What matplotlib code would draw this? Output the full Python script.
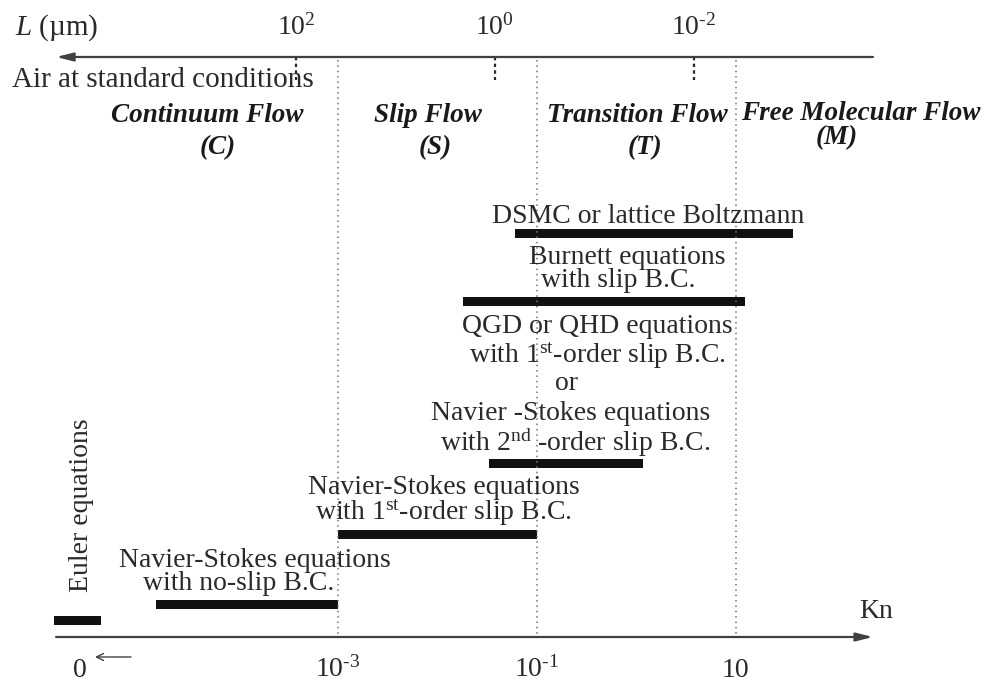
import numpy as np
import matplotlib
matplotlib.use('Agg')
import matplotlib.pyplot as plt
from matplotlib import transforms

plt.rcParams['font.family'] = ['Liberation Serif', 'DejaVu Serif']
plt.rcParams['mathtext.fontset'] = 'custom'
plt.rcParams['mathtext.rm'] = 'Liberation Serif'
plt.rcParams['mathtext.it'] = 'Liberation Serif:italic'
plt.rcParams['mathtext.bf'] = 'Liberation Serif:bold'

# ---- data ----
# Knudsen number range covered by each method
methods = ['DSMC', 'Burnett', 'QGD/NS2', 'NS1', 'NS0', 'Euler']
kn_lo = [0.06, 0.018, 0.033, 1e-3, 1.5e-5, 1.4e-6]
kn_hi = [38.0, 12.4, 1.17, 0.1, 1e-3, 4.2e-6]

# regime boundaries and bottom axis ticks
kn_bounds = [1e-3, 1e-1, 10]
kn_ticks = [1e-3, 1e-1, 10]
kn_ticklabels = ['$10^{\u2010 3}$', '$10^{\u2010 1}$', '10']

# top axis: length scale L (um) for air, L = lam / Kn
lam = 10 ** -1.42
L_ticks = [1e2, 1e0, 1e-2]
L_ticklabels = ['$10^{2}$', '$10^{0}$', '$10^{\u2010 2}$']

regimes = ['Continuum Flow', 'Slip Flow', 'Transition Flow', 'Free Molecular Flow']
regime_tags = ['(C)', '(S)', '(T)', '(M)']

# ---- layout (pixels) ----
W, H = 985, 682
bar_rows = [233, 301, 463, 534, 604, 620]
bar_h = 9
y_top, y_bot = 57, 637
kn_axis_left, kn_axis_right = 10 ** -5.83, 10 ** 2.38

fig = plt.figure(figsize=(W / 100, H / 100), dpi=100)
ax = fig.add_axes([0, 0, 1, 1])
ax.set_xscale('log')
ax.set_xlim(10 ** -6.394, 10 ** 3.506)
ax.set_ylim(H, 0)
ax.axis('off')
tr = transforms.blended_transform_factory(ax.transAxes, ax.transData)

ink = '#1a1a1a'
txt = '#2a2a2a'

# bars
lo = np.array(kn_lo)
hi = np.array(kn_hi)
ax.barh(bar_rows, hi - lo, left=lo, height=bar_h, color='#111111')

# regime dotted boundaries
ax.vlines(kn_bounds, 60, y_bot, colors='0.45', linestyles=(0, (1, 2.5)), lw=1.1)

# top axis
L_kn = [lam / L for L in L_ticks]
ax.vlines(L_kn, y_top, 80, colors='0.15', linestyles=(0, (1.5, 1.5)), lw=1.6)
ax.annotate('', xy=(kn_axis_left, y_top), xytext=(kn_axis_right, y_top),
            arrowprops=dict(arrowstyle='-|>,head_length=1.0,head_width=0.25',
                            color='0.25', lw=1.6, shrinkA=0, shrinkB=0))
for k, lab in zip(L_kn, L_ticklabels):
    ax.text(k, 35, lab, ha='center', va='baseline', fontsize=20, color=txt)
ax.text(15 / W, 35, r'$\mathit{L}$ (µm)', transform=tr, ha='left', va='baseline',
        fontsize=21, color=txt)
ax.text(12 / W, 87, 'Air at standard conditions', transform=tr, ha='left',
        va='baseline', fontsize=21, color=txt)

# bottom axis
ax.annotate('', xy=(kn_axis_right, y_bot), xytext=(kn_axis_left, y_bot),
            arrowprops=dict(arrowstyle='-|>,head_length=1.0,head_width=0.25',
                            color='0.25', lw=1.6, shrinkA=0, shrinkB=0))
for k, lab in zip(kn_ticks, kn_ticklabels):
    ax.text(k, 677, lab, ha='center', va='baseline', fontsize=20, color=txt)
ax.text(876 / W, 618, 'Kn', transform=tr, ha='center', va='baseline', fontsize=20, color=txt)
ax.text(80 / W, 677, '0', transform=tr, ha='center', va='baseline', fontsize=20, color=txt)
ax.annotate('', xy=(95 / W, 657), xytext=(131 / W, 657), xycoords=tr, textcoords=tr,
            arrowprops=dict(arrowstyle='->,head_length=0.5,head_width=0.25',
                            color='0.25', lw=1.0, shrinkA=0, shrinkB=0))

# regime labels
regime_pos = [(207, 122, 218, 154), (428, 122, 435, 154),
              (637, 122, 645, 154), (861, 120, 837, 144)]
for name, tag, (x1, y1, x2, y2) in zip(regimes, regime_tags, regime_pos):
    ax.text(x1 / W, y1, name, transform=tr, ha='center', va='baseline',
            fontsize=19.5, fontweight='bold', fontstyle='italic', color=ink)
    ax.text(x2 / W, y2, tag, transform=tr, ha='center', va='baseline',
            fontsize=19.5, fontweight='bold', fontstyle='italic', color=ink)

# method labels (x centre, baseline, text)
method_lines = [
    (648, 223, 'DSMC or lattice Boltzmann'),
    (627, 264, 'Burnett equations'),
    (618, 287, 'with slip B.C.'),
    (597, 333, 'QGD or QHD equations'),
    (597, 363, r'with 1$^{\mathrm{st}}$-order slip B.C.'),
    (567, 390, 'or'),
    (571, 420, 'Navier -Stokes equations'),
    (575, 451, r'with 2$^{\mathrm{nd}}$ -order slip B.C.'),
    (444, 494, 'Navier-Stokes equations'),
    (443, 520, r'with 1$^{\mathrm{st}}$-order slip B.C.'),
    (255, 567, 'Navier-Stokes equations'),
    (239, 590, 'with no-slip B.C.'),
]
for x, y, s in method_lines:
    ax.text(x / W, y, s, transform=tr, ha='center', va='baseline', fontsize=20, color=txt)

ax.text(81 / W, 505, 'Euler equations', transform=tr, ha='center', va='center',
        rotation=90, fontsize=20, color=txt)

fig.savefig('out.png', dpi=100)
